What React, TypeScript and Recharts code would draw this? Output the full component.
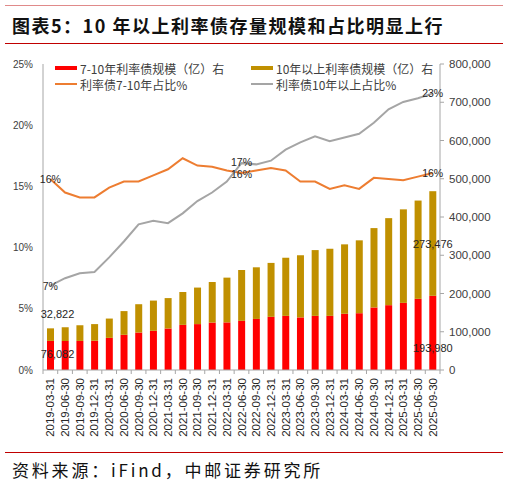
import React from 'react';
import { ComposedChart, Bar, Line, XAxis, YAxis, LabelList } from 'recharts';

const dates = [
  '2019-03-31', '2019-06-30', '2019-09-30', '2019-12-31',
  '2020-03-31', '2020-06-30', '2020-09-30', '2020-12-31',
  '2021-03-31', '2021-06-30', '2021-09-30', '2021-12-31',
  '2022-03-31', '2022-06-30', '2022-09-30', '2022-12-31',
  '2023-03-31', '2023-06-30', '2023-09-30', '2023-12-31',
  '2024-03-31', '2024-06-30', '2024-09-30', '2024-12-31',
  '2025-03-31', '2025-06-30', '2025-09-30',
];

// 规模（亿），右轴
const bond7to10 = [
  76082, 75500, 76000, 76500, 84000, 92000, 98000, 102500, 108500, 118000,
  120000, 124000, 124500, 128500, 133500, 139000, 141500, 137500, 141500, 141500,
  147000, 148500, 163500, 169500, 175500, 186000, 193980,
];
const bond10plus = [
  32822, 36500, 41000, 43500, 50500, 62000, 74000, 79000, 79500, 86000,
  95500, 106000, 117000, 133000, 135000, 141000, 152000, 162500, 172000, 175500,
  181500, 190500, 207500, 227500, 244500, 257000, 273476,
];

// 占比（%），左轴
const share7to10 = [
  15.6, 14.5, 14.1, 14.1, 14.9, 15.4, 15.4, 15.9, 16.4, 17.3,
  16.7, 16.6, 16.3, 16.1, 16.3, 16.5, 16.3, 15.4, 15.4, 14.8,
  15.1, 14.8, 15.7, 15.6, 15.5, 15.8, 16.1,
];
const share10plus = [
  6.9, 7.5, 7.9, 8.0, 9.2, 10.5, 11.9, 12.2, 12.0, 12.8,
  13.8, 14.5, 15.4, 16.9, 16.8, 17.1, 18.0, 18.6, 19.1, 18.7,
  19.0, 19.3, 20.2, 21.3, 21.9, 22.2, 22.6,
];

const pctTicks = [0, 5, 10, 15, 20, 25];
const amtTicks = [0, 100000, 200000, 300000, 400000, 500000, 600000, 700000, 800000];
const labelledPoints = [0, 13, 26];

const RED = '#FF0000';
const GOLD = '#C09000';
const ORANGE = '#ED7D31';
const GRAY = '#A5A5A5';
const AXIS = '#A6A6A6';
const NUM_FONT = '"Liberation Sans", Arial, sans-serif';
const CJK_FONT = '"Noto Sans CJK SC", "Liberation Sans", sans-serif';

const data = dates.map((d, i) => ({
  date: d,
  r: bond7to10[i],
  g: bond10plus[i],
  s1: share7to10[i],
  s2: share10plus[i],
}));

const fmt = (v: number) => v.toLocaleString('en-US');

// the two labels at 2022-06-30 sit very close, nudge them apart a little
const makePctLabel = (nudge: number) => (p: any) => {
  if (!labelledPoints.includes(p.index)) return null;
  const dy = p.index === 13 ? nudge : 0;
  return (
    <text x={p.x} y={p.y + dy} textAnchor="middle" dominantBaseline="central"
      fontSize={10.5} fontFamily={NUM_FONT} fill="#262626">
      {Math.round(p.value)}%
    </text>
  );
};

const redLabel = (p: any) => {
  const last = p.index === dates.length - 1;
  if (p.index !== 0 && !last) return null;
  const cx = p.x + p.width / 2 + (last ? 0 : 7);
  const cy = last ? p.y + p.height * 0.7 : p.y + p.height / 2 - 1;
  return (
    <text x={cx} y={cy} textAnchor="middle" dominantBaseline="central"
      fontSize={11} fontFamily={NUM_FONT} fill="#262626">{fmt(p.value)}</text>
  );
};

const goldLabel = (p: any) => {
  const last = p.index === dates.length - 1;
  if (p.index !== 0 && !last) return null;
  const cx = p.x + p.width / 2 + (last ? 0 : 7);
  const cy = last ? p.y + p.height / 2 : p.y - 14;
  return (
    <text x={cx} y={cy} textAnchor="middle" dominantBaseline="central"
      fontSize={11} fontFamily={NUM_FONT} fill="#262626">{fmt(p.value)}</text>
  );
};

const DateTick = (props: any) => {
  const { x, y, payload, index, width, visibleTicksCount } = props;
  const half = width && visibleTicksCount ? width / visibleTicksCount / 2 : payload.offset || 7;
  return (
    <g>
      <line x1={x - half} x2={x - half} y1={y - 8} y2={y - 4} stroke={AXIS} />
      {index === dates.length - 1 && (
        <line x1={x + half} x2={x + half} y1={y - 8} y2={y - 4} stroke={AXIS} />
      )}
      <text x={x} y={y} transform={`rotate(-90, ${x}, ${y})`} textAnchor="end"
        dominantBaseline="central" fontSize={11.5} fontFamily={NUM_FONT} fill="#262626">
        {payload.value}
      </text>
    </g>
  );
};

const legendItems = [
  { label: '7-10年利率债规模（亿）右', color: RED, thick: true, left: 55, top: 68 },
  { label: '10年以上利率债规模（亿）右', color: GOLD, thick: true, left: 251, top: 68 },
  { label: '利率债7-10年占比%', color: ORANGE, thick: false, left: 55, top: 84 },
  { label: '利率债10年以上占比%', color: GRAY, thick: false, left: 251, top: 84 },
];

export default function App() {
  return (
    <div style={{ position: 'fixed', left: 0, top: 0, width: 509, height: 487, background: '#fff', overflow: 'hidden' }}>
      <div style={{ position: 'absolute', left: 5, top: 5, width: 498, height: 1, background: '#E08A8A' }} />
      <div style={{
        position: 'absolute', left: 12, top: 12, height: 26, lineHeight: '26px',
        fontFamily: CJK_FONT, fontWeight: 700, fontSize: 18, letterSpacing: 1.5, color: '#111',
      }}>
        图表5：10 年以上利率债存量规模和占比明显上行
      </div>
      <div style={{ position: 'absolute', left: 5, top: 43, width: 498, height: 1, background: '#C00000' }} />

      <div style={{ position: 'absolute', left: 0, top: 0 }}>
        <ComposedChart width={509} height={487} data={data}
          margin={{ top: 64, right: 0, bottom: 47, left: 8 }}>
          <XAxis dataKey="date" interval={0} tickLine={false} tickSize={0} tickMargin={8}
            height={70} stroke={AXIS} tick={<DateTick />} />
          <YAxis yAxisId="left" orientation="left" width={35} domain={[0, 25]} ticks={pctTicks}
            tickLine={false} tickMargin={4} stroke={AXIS} tickFormatter={(v) => `${v}%`}
            tick={{ fontSize: 10, fill: '#404040', fontFamily: NUM_FONT }} />
          <YAxis yAxisId="right" orientation="right" width={69} domain={[0, 800000]} ticks={amtTicks}
            tickSize={4} tickMargin={5} stroke={AXIS} tickFormatter={fmt}
            tick={{ fontSize: 11.5, fill: '#404040', fontFamily: NUM_FONT }} />
          <Bar yAxisId="right" dataKey="r" stackId="a" fill={RED} barSize={7} isAnimationActive={false}>
            <LabelList dataKey="r" content={redLabel} />
          </Bar>
          <Bar yAxisId="right" dataKey="g" stackId="a" fill={GOLD} barSize={7} isAnimationActive={false}>
            <LabelList dataKey="g" content={goldLabel} />
          </Bar>
          <Line yAxisId="left" dataKey="s1" stroke={ORANGE} strokeWidth={2} dot={false} type="linear"
            isAnimationActive={false}>
            <LabelList dataKey="s1" content={makePctLabel(1.5)} />
          </Line>
          <Line yAxisId="left" dataKey="s2" stroke={GRAY} strokeWidth={2} dot={false} type="linear"
            isAnimationActive={false}>
            <LabelList dataKey="s2" content={makePctLabel(-1)} />
          </Line>
        </ComposedChart>
      </div>

      {legendItems.map((it) => (
        <div key={it.label} style={{ position: 'absolute', left: it.left, top: it.top - 8, height: 16, display: 'flex', alignItems: 'center' }}>
          <div style={{ width: 22, height: it.thick ? 4 : 2, background: it.color, marginRight: 3 }} />
          <span style={{ fontFamily: CJK_FONT, fontSize: 12, color: '#404040', whiteSpace: 'nowrap' }}>{it.label}</span>
        </div>
      ))}

      <div style={{ position: 'absolute', left: 5, top: 452, width: 498, height: 1, background: '#C00000' }} />
      <div style={{
        position: 'absolute', left: 12, top: 458, height: 24, lineHeight: '24px',
        fontFamily: CJK_FONT, fontSize: 17, letterSpacing: 2.8, color: '#111',
      }}>
        资料来源：iFind，中邮证券研究所
      </div>
    </div>
  );
}
